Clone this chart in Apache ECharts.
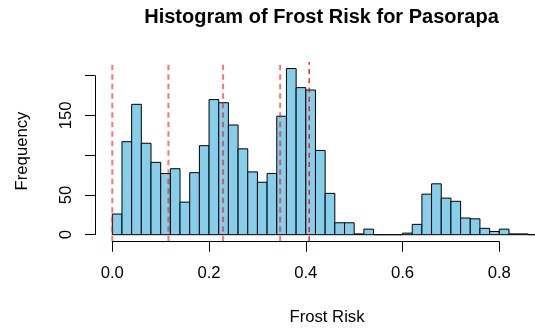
<!DOCTYPE html>
<html><head><meta charset="utf-8">
<script src="https://cdn.jsdelivr.net/npm/echarts@6/dist/echarts.min.js"></script>
<style>html,body{margin:0;padding:0;background:#fff}#c{width:535px;height:331px}</style>
</head><body><div id="c"></div>
<script>
// ---- data ----
const binWidth = 0.02;
const binStarts = [0.00,0.02,0.04,0.06,0.08,0.10,0.12,0.14,0.16,0.18,
                   0.20,0.22,0.24,0.26,0.28,0.30,0.32,0.34,0.36,0.38,
                   0.40,0.42,0.44,0.46,0.48,0.50,0.52,0.54,0.56,0.58,
                   0.60,0.62,0.64,0.66,0.68,0.70,0.72,0.74,0.76,0.78,
                   0.80,0.82,0.84,0.86,0.88];
const counts = [26,117,164,115,91,77,83,41,78,112,
                170,166,138,108,79,66,77,149,209,185,
                182,106,52,15,15,1,7,0,0,0,
                2,13,51,64,46,42,21,20,8,4,
                7,1,1,0,1];
const quantileLines = [0.0, 0.116, 0.229, 0.347];
const meanLine = [0.407];
const xTickValues = [0, 0.2, 0.4, 0.6, 0.8];
const yTickValues = [0, 50, 100, 150, 200];
const yTickLabels = ['0', '50', '', '150', ''];
const titleText = 'Histogram of Frost Risk for Pasorapa';
const xLabel = 'Frost Risk';
const yLabel = 'Frequency';

// ---- chart ----
const FONT = '"Liberation Sans", Arial, Helvetica, sans-serif';
const yMax = Math.max(...counts);
const usrLo = -0.04 * yMax, usrHi = 1.04 * yMax;

const chart = echarts.init(document.getElementById('c'), null, {renderer: 'canvas'});

const bars = binStarts.map((s, i) => [s, s + binWidth, counts[i]]);

const option = {
  animation: false,
  backgroundColor: '#fff',
  grid: {left: 112.3, top: 75.7, width: 387, height: 159, containLabel: false},
  xAxis: {
    type: 'value', min: xTickValues[0], max: xTickValues[xTickValues.length - 1], interval: 0.2,
    offset: 7,
    axisLine: {show: true, onZero: false, lineStyle: {color: '#000', width: 1}},
    axisTick: {show: true, length: 10, lineStyle: {color: '#000', width: 1}},
    axisLabel: {margin: 23, fontSize: 16.7, color: '#000', fontFamily: FONT,
      formatter: v => v.toFixed(1)},
    splitLine: {show: false}
  },
  yAxis: {
    type: 'value', min: yTickValues[0], max: yTickValues[yTickValues.length - 1], interval: 50,
    offset: 17.4,
    axisLine: {show: true, onZero: false, lineStyle: {color: '#000', width: 1}},
    axisTick: {show: true, length: 10, lineStyle: {color: '#000', width: 1}},
    axisLabel: {margin: 20, fontSize: 16.7, color: '#000', fontFamily: FONT, rotate: 90,
      formatter: v => yTickLabels[yTickValues.indexOf(v)] || ''},
    splitLine: {show: false}
  },
  graphic: [
    {type: 'text', x: 321.5, y: 17.5, style: {text: titleText, font: 'bold 20px ' + FONT,
      fill: '#000', align: 'center', verticalAlign: 'middle', textAlign: 'center', textVerticalAlign: 'middle'}},
    {type: 'text', x: 327, y: 317, style: {text: xLabel, font: '16.7px ' + FONT,
      fill: '#000', align: 'center', verticalAlign: 'middle', textAlign: 'center', textVerticalAlign: 'middle'}},
    {type: 'text', x: 22, y: 151, rotation: Math.PI / 2, style: {text: yLabel, font: '16.7px ' + FONT,
      fill: '#000', align: 'center', verticalAlign: 'middle', textAlign: 'center', textVerticalAlign: 'middle'}}
  ],
  series: [
    {
      type: 'custom',
      clip: false,
      data: bars,
      renderItem: (params, api) => {
        const p0 = api.coord([api.value(0), 0]);
        const p1 = api.coord([api.value(1), api.value(2)]);
        return {
          type: 'rect',
          shape: {x: p0[0], y: p1[1], width: p1[0] - p0[0], height: p0[1] - p1[1]},
          style: {fill: '#87CEEB', stroke: '#000', lineWidth: 1}
        };
      }
    },
    {
      type: 'custom',
      clip: false,
      data: quantileLines.map(x => [x, 0]),
      renderItem: (params, api) => {
        const a = api.coord([api.value(0), usrLo]);
        const b = api.coord([api.value(0), usrHi]);
        return {type: 'line', shape: {x1: a[0], y1: a[1], x2: b[0], y2: b[1]},
          style: {stroke: 'rgba(255,0,0,0.55)', lineWidth: 2, lineDash: [5.5, 4]}};
      }
    },
    {
      type: 'custom',
      clip: false,
      data: meanLine.map(x => [x, 0]),
      renderItem: (params, api) => {
        const a = api.coord([api.value(0), usrLo]);
        const b = api.coord([api.value(0), usrHi]);
        return {type: 'line', shape: {x1: a[0], y1: a[1], x2: b[0], y2: b[1]},
          style: {stroke: '#ff0000', lineWidth: 1.3, lineDash: [5, 4.3]}};
      }
    }
  ]
};
chart.setOption(option);
</script>
</body></html>
